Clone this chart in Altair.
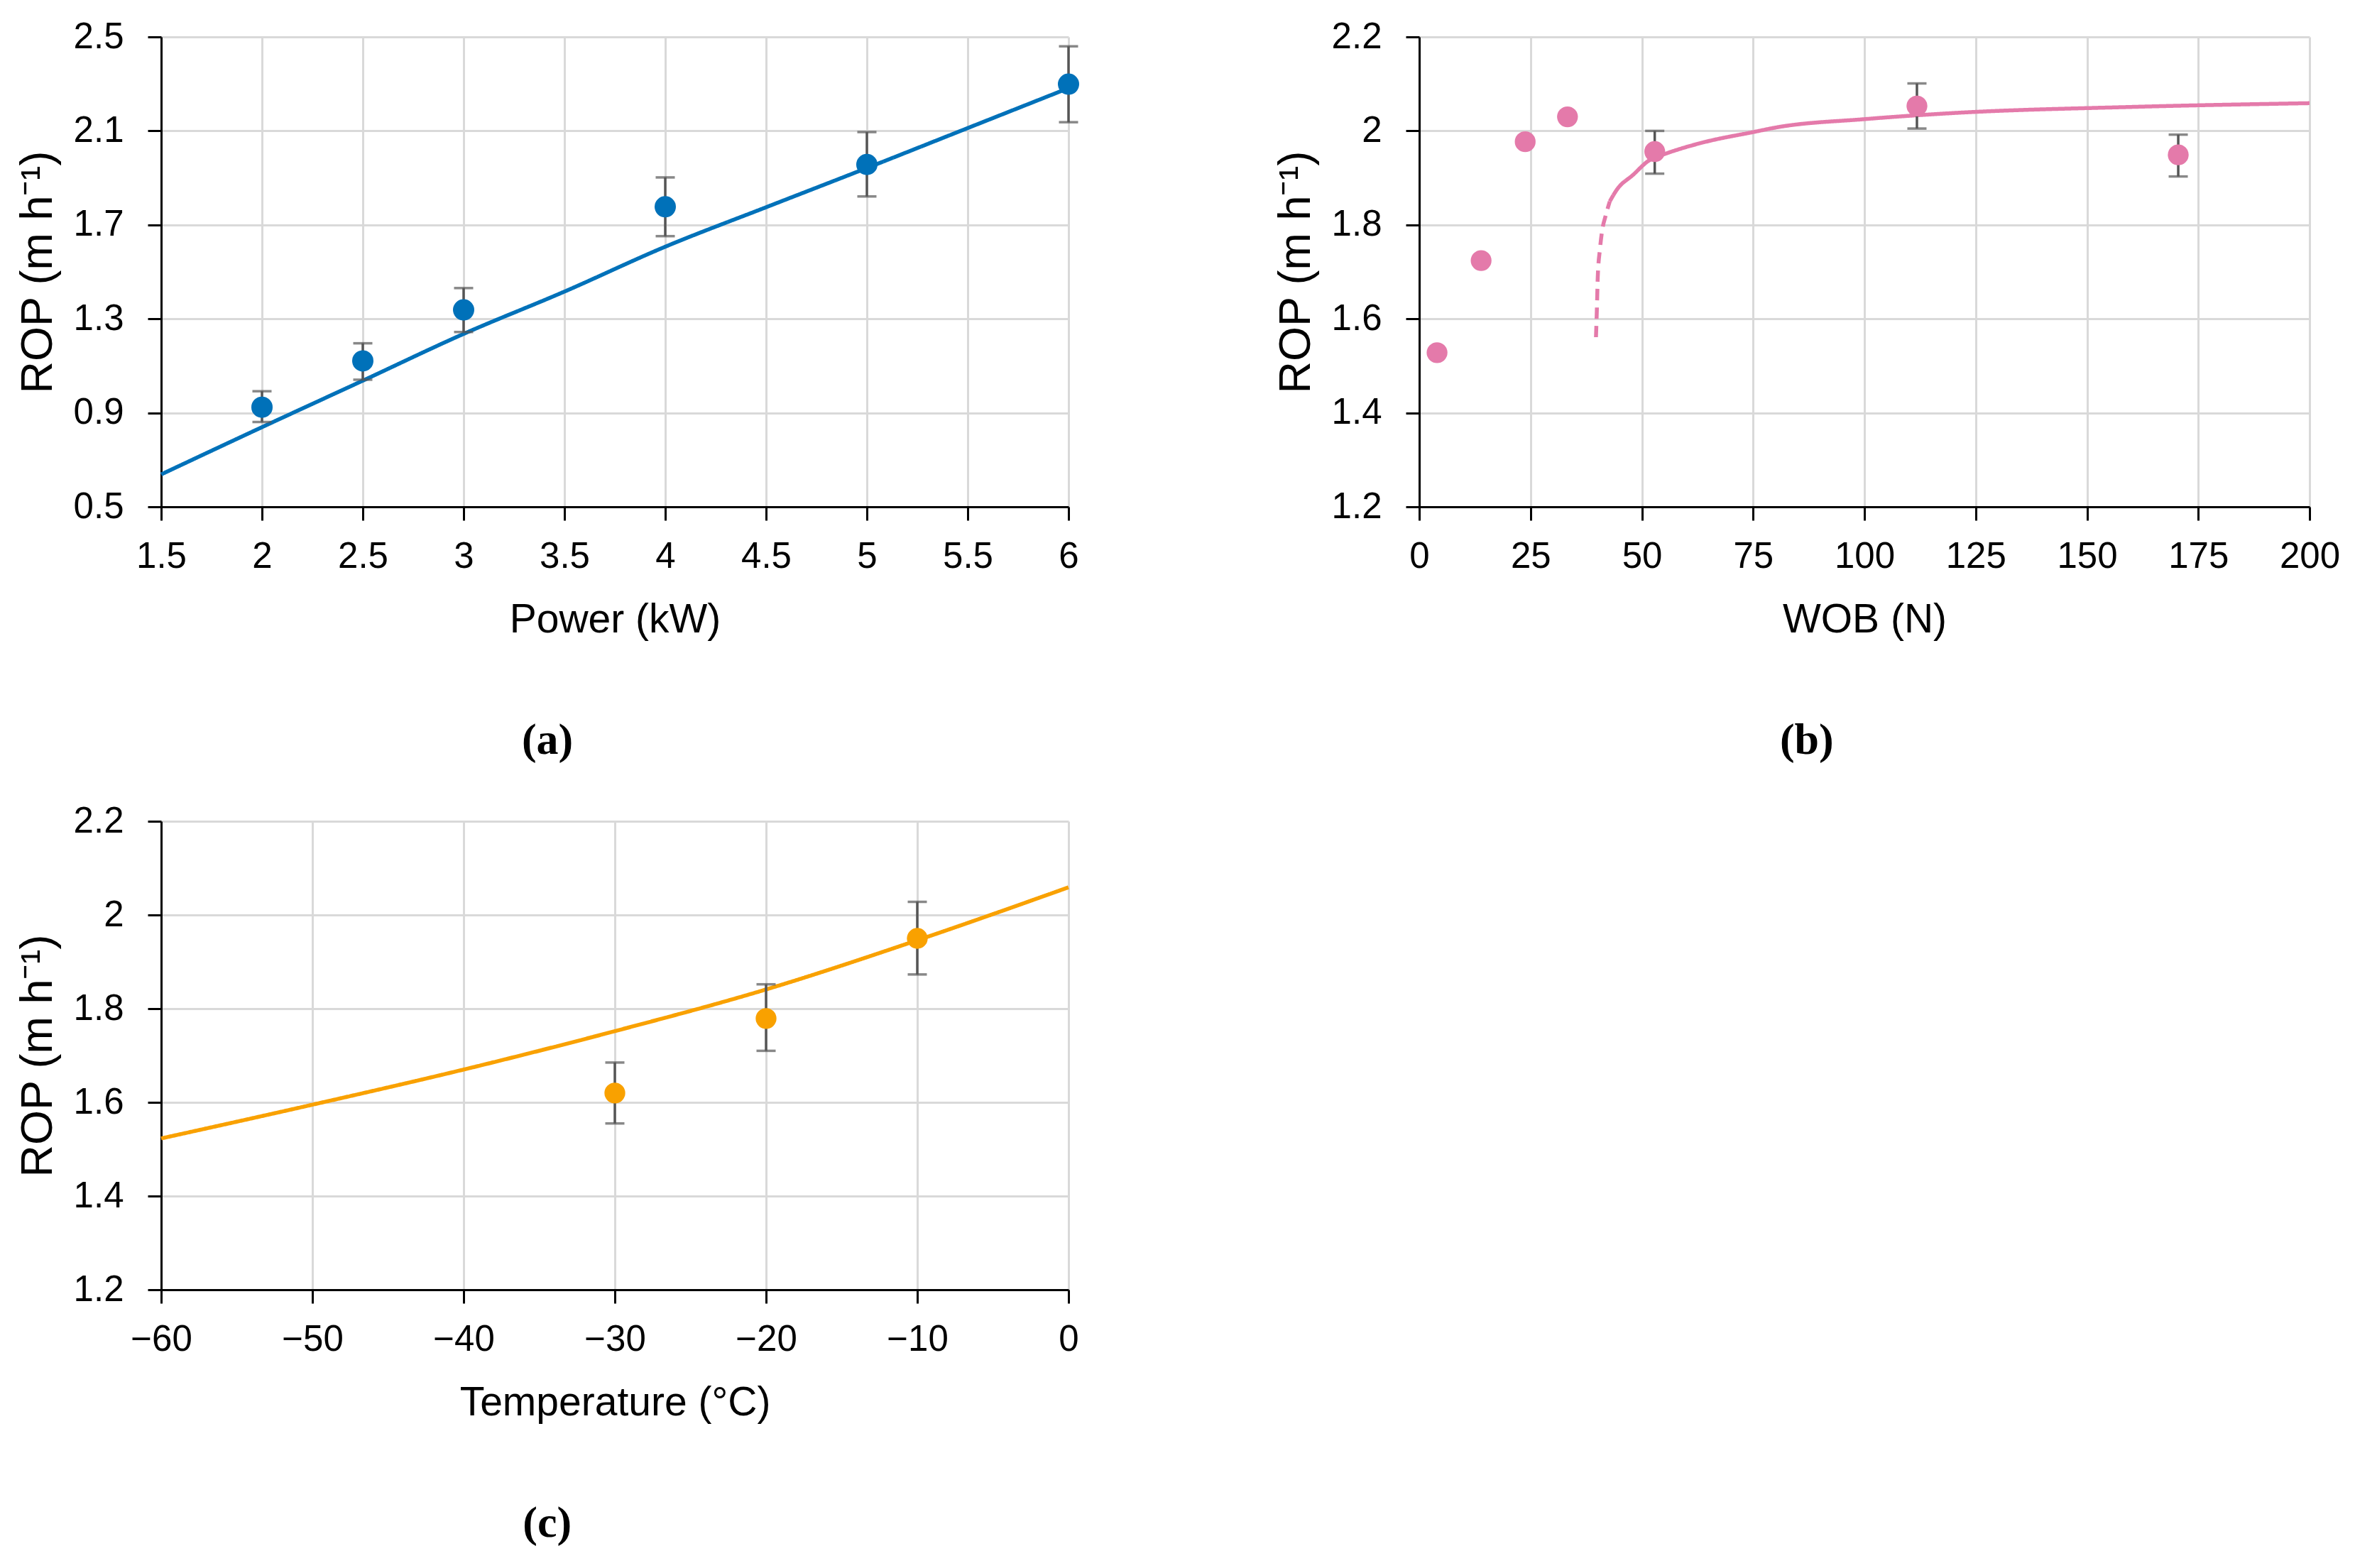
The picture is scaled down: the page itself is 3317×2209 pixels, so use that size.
import altair as alt
import pandas as pd

BLUE = "#0071b9"
PINK = "#e47aaa"
ORANGE = "#f9a100"
ERR = "#555555"

# (a) power
power_kw = [2, 2.5, 3, 4, 5, 6]
rop_power = [0.924, 1.121, 1.338, 1.777, 1.957, 2.299]
rop_power_lo = [0.861, 1.041, 1.244, 1.652, 1.821, 2.137]
rop_power_hi = [0.992, 1.196, 1.431, 1.902, 2.095, 2.460]
fit_power_x = [1.5, 2, 2.5, 3, 3.5, 4, 4.5, 5, 5.5, 6]
fit_power_y = [0.638, 0.839, 1.037, 1.236, 1.416, 1.607, 1.775, 1.942, 2.112, 2.282]

# (b) weight on bit
wob_n = [4.0, 13.9, 23.8, 33.3, 52.9, 111.8, 170.5]
rop_wob = [1.528, 1.724, 1.977, 2.030, 1.956, 2.053, 1.949]
wob_err_x = [52.9, 111.8, 170.5]
wob_err_lo = [1.909, 2.005, 1.903]
wob_err_hi = [2.000, 2.101, 1.992]
fit_wob_dash_x = [39.7, 39.9, 40.1, 40.6, 41.2, 41.8, 42.8]
fit_wob_dash_y = [1.561, 1.619, 1.689, 1.749, 1.794, 1.817, 1.850]
fit_wob_x = [42.8, 44.4, 48.1, 51.3, 55.5, 58.7, 64.0, 75.3, 80, 100, 120, 160, 200]
fit_wob_y = [1.850, 1.875, 1.907, 1.935, 1.952, 1.962, 1.976, 1.998, 2.007, 2.025, 2.038, 2.051, 2.059]

# (c) temperature
temp_c = [-30, -20, -10]
rop_temp = [1.620, 1.779, 1.950]
rop_temp_lo = [1.555, 1.710, 1.873]
rop_temp_hi = [1.685, 1.852, 2.028]
fit_temp_x = [-60, -50, -40, -30, -20, -10, 0]
fit_temp_y = [1.523, 1.595, 1.670, 1.752, 1.841, 1.946, 2.059]

Y_TITLE = "ROP (m h\u207b\u00b9)"
LABELS = "format(datum.value, '')"


def panel(pts, errs, fits, color, x_dom, x_vals, y_dom, y_vals, x_title, label, width, height, dot=860):
    xs = alt.Scale(domain=x_dom, nice=False, zero=False)
    ys = alt.Scale(domain=y_dom, nice=False, zero=False)
    x_ax = alt.Axis(values=x_vals, labelExpr=LABELS, title=x_title)
    y_ax = alt.Axis(values=y_vals, labelExpr=LABELS, title=Y_TITLE)

    layers = []
    for fx, fy, dash in fits:
        df = pd.DataFrame({"x": fx, "y": fy})
        mark = alt.Chart(df).mark_line(color=color, strokeWidth=5.5, interpolate="monotone",
                                       strokeDash=dash if dash else [1, 0])
        layers.append(mark.encode(x=alt.X("x:Q", scale=xs, axis=x_ax),
                                  y=alt.Y("y:Q", scale=ys, axis=y_ax)))

    edf = pd.DataFrame({"x": errs[0], "lo": errs[1], "hi": errs[2]})
    err_base = alt.Chart(edf)
    layers.append(err_base.mark_rule(color=ERR, strokeWidth=3.5).encode(
        x=alt.X("x:Q", scale=xs, axis=x_ax),
        y=alt.Y("lo:Q", scale=ys, axis=y_ax), y2="hi:Q"))
    for col in ["lo", "hi"]:
        layers.append(err_base.mark_tick(orient="horizontal", color=ERR, size=27, thickness=3.5).encode(
            x=alt.X("x:Q", scale=xs, axis=x_ax),
            y=alt.Y(f"{col}:Q", scale=ys, axis=y_ax)))

    pdf = pd.DataFrame({"x": pts[0], "y": pts[1]})
    layers.append(alt.Chart(pdf).mark_circle(color=color, size=dot, opacity=1).encode(
        x=alt.X("x:Q", scale=xs, axis=x_ax),
        y=alt.Y("y:Q", scale=ys, axis=y_ax)))

    return alt.layer(*layers).properties(
        width=width, height=height,
        title=alt.TitleParams(text=label, orient="bottom", anchor="middle", frame="bounds",
                              font="Liberation Serif", fontSize=62, fontWeight="bold",
                              baseline="top", offset=112, color="black"))


chart_a = panel((power_kw, rop_power), (power_kw, rop_power_lo, rop_power_hi),
                [(fit_power_x, fit_power_y, None)], BLUE,
                [1.5, 6], [1.5, 2, 2.5, 3, 3.5, 4, 4.5, 5, 5.5, 6],
                [0.5, 2.5], [0.5, 0.9, 1.3, 1.7, 2.1, 2.5],
                "Power (kW)", "(a)", 1278, 662, dot=900)

chart_b = panel((wob_n, rop_wob), (wob_err_x, wob_err_lo, wob_err_hi),
                [(fit_wob_dash_x, fit_wob_dash_y, [16, 10]), (fit_wob_x, fit_wob_y, None)], PINK,
                [0, 200], [0, 25, 50, 75, 100, 125, 150, 175, 200],
                [1.2, 2.2], [1.2, 1.4, 1.6, 1.8, 2.0, 2.2],
                "WOB (N)", "(b)", 1254, 662)

chart_c = panel((temp_c, rop_temp), (temp_c, rop_temp_lo, rop_temp_hi),
                [(fit_temp_x, fit_temp_y, None)], ORANGE,
                [-60, 0], [-60, -50, -40, -30, -20, -10, 0],
                [1.2, 2.2], [1.2, 1.4, 1.6, 1.8, 2.0, 2.2],
                "Temperature (\u00b0C)", "(c)", 1278, 660)

chart = alt.vconcat(
    alt.hconcat(chart_a, chart_b, spacing=274),
    chart_c,
    spacing=57,
).properties(
    padding={"left": 14, "top": 18, "right": 10, "bottom": 10},
    background="white",
).configure_view(
    stroke=None
).configure_axis(
    domainColor="black", domainWidth=3,
    tickColor="black", tickWidth=3, tickSize=19,
    gridColor="#d9d9d9", gridWidth=3,
    labelFont="Liberation Sans", labelFontSize=51, labelColor="black",
    labelFlush=False, labelOverlap=False,
    titleFont="Liberation Sans", titleFontWeight="normal", titleColor="black",
).configure_axisX(
    labelPadding=26, titleFontSize=57, titlePadding=36
).configure_axisY(
    labelPadding=34, titleFontSize=63, titlePadding=18
)

chart.save("out.html", embed_options={"renderer": "svg", "actions": False})
